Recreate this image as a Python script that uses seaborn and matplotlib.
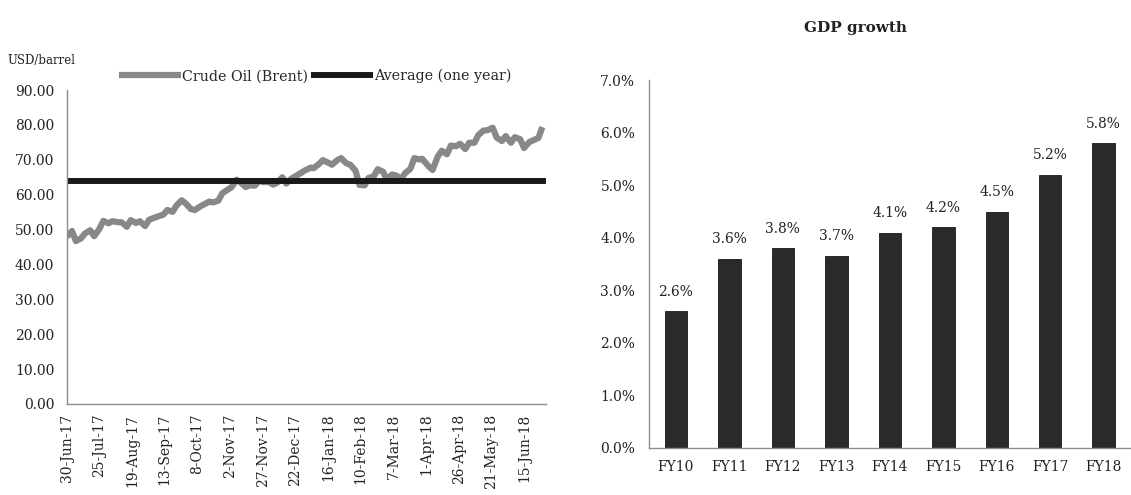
import matplotlib
matplotlib.use("Agg")
import matplotlib.pyplot as plt
import matplotlib.ticker as mticker
import seaborn as sns
import pandas as pd
import numpy as np

# ---------------- data ----------------
brent_dates = [
    "2017-06-30", "2017-07-04", "2017-07-07", "2017-07-11", "2017-07-14", "2017-07-18",
    "2017-07-21", "2017-07-25", "2017-07-28", "2017-08-01", "2017-08-04", "2017-08-08",
    "2017-08-11", "2017-08-15", "2017-08-18", "2017-08-22", "2017-08-25", "2017-08-29",
    "2017-09-01", "2017-09-05", "2017-09-08", "2017-09-12", "2017-09-15", "2017-09-19",
    "2017-09-22", "2017-09-26", "2017-09-29", "2017-10-03", "2017-10-06", "2017-10-10",
    "2017-10-13", "2017-10-17", "2017-10-20", "2017-10-24", "2017-10-27", "2017-10-31",
    "2017-11-03", "2017-11-07", "2017-11-10", "2017-11-14", "2017-11-17", "2017-11-21",
    "2017-11-24", "2017-11-28", "2017-12-01", "2017-12-05", "2017-12-08", "2017-12-12",
    "2017-12-15", "2017-12-19", "2017-12-22", "2017-12-27", "2017-12-29", "2018-01-03",
    "2018-01-05", "2018-01-09", "2018-01-12", "2018-01-16", "2018-01-19", "2018-01-23",
    "2018-01-26", "2018-01-30", "2018-02-02", "2018-02-06", "2018-02-09", "2018-02-13",
    "2018-02-16", "2018-02-20", "2018-02-23", "2018-02-27", "2018-03-02", "2018-03-06",
    "2018-03-09", "2018-03-13", "2018-03-16", "2018-03-20", "2018-03-23", "2018-03-27",
    "2018-03-29", "2018-04-03", "2018-04-06", "2018-04-10", "2018-04-13", "2018-04-17",
    "2018-04-20", "2018-04-24", "2018-04-27", "2018-05-01", "2018-05-04", "2018-05-08",
    "2018-05-11", "2018-05-15", "2018-05-18", "2018-05-22", "2018-05-25", "2018-05-29",
    "2018-06-01", "2018-06-05", "2018-06-08", "2018-06-12", "2018-06-15", "2018-06-19",
    "2018-06-22", "2018-06-26", "2018-06-29",
]
brent_prices = [
    47.9, 49.6, 46.7, 47.5, 48.9, 49.8,
    48.1, 50.2, 52.5, 51.8, 52.4, 52.1,
    52.1, 50.8, 52.7, 51.9, 52.4, 51.0,
    52.8, 53.4, 53.8, 54.3, 55.6, 55.1,
    56.9, 58.4, 57.5, 55.9, 55.6, 56.6,
    57.2, 58.0, 57.8, 58.3, 60.4, 61.4,
    62.1, 64.3, 63.5, 62.2, 62.7, 62.6,
    63.9, 63.6, 63.7, 62.9, 63.4, 65.0,
    63.2, 64.6, 65.3, 66.4, 66.9, 67.8,
    67.6, 68.8, 69.9, 69.2, 68.6, 69.9,
    70.5, 69.0, 68.6, 66.9, 62.8, 62.7,
    64.8, 65.3, 67.3, 66.6, 64.4, 65.8,
    65.5, 64.6, 66.2, 67.4, 70.5, 70.1,
    70.3, 68.1, 67.1, 71.0, 72.6, 71.6,
    74.1, 73.9, 74.6, 73.1, 74.9, 74.9,
    77.1, 78.4, 78.5, 79.2, 76.4, 75.4,
    76.8, 74.9, 76.5, 75.9, 73.4, 75.1,
    75.6, 76.3, 79.4,
]
brent_avg = 64.0

date_ticks = ["30-Jun-17", "25-Jul-17", "19-Aug-17", "13-Sep-17", "8-Oct-17",
              "2-Nov-17", "27-Nov-17", "22-Dec-17", "16-Jan-18", "10-Feb-18",
              "7-Mar-18", "1-Apr-18", "26-Apr-18", "21-May-18", "15-Jun-18"]

fy_labels = ["FY10", "FY11", "FY12", "FY13", "FY14", "FY15", "FY16", "FY17", "FY18"]
gdp_growth = [2.6, 3.6, 3.8, 3.66, 4.1, 4.2, 4.5, 5.2, 5.8]

# ---------------- style ----------------
sns.set_theme(style="white")
plt.rcParams["font.family"] = ["DejaVu Serif"]
plt.rcParams["axes.edgecolor"] = "#8c8c8c"
plt.rcParams["axes.linewidth"] = 1.0
FS = 10

fig = plt.figure(figsize=(11.31, 4.95), dpi=100)

# ---------------- left: Brent ----------------
ax1 = fig.add_axes([0.059, 0.184, 0.424, 0.634])
df = pd.DataFrame({"date": pd.to_datetime(brent_dates), "price": brent_prices})
sns.lineplot(data=df, x="date", y="price", ax=ax1, color="#888888",
             linewidth=4.5, label="Crude Oil (Brent)", solid_capstyle="butt")
ax1.axhline(brent_avg, color="#1a1a1a", linewidth=4.3, label="Average (one year)",
            solid_capstyle="butt")

ax1.set_ylim(0, 90)
ax1.set_xlim(pd.Timestamp("2017-06-30"), pd.Timestamp("2018-07-02"))
ax1.yaxis.set_major_locator(mticker.MultipleLocator(10))
ax1.yaxis.set_major_formatter(mticker.FormatStrFormatter("%.2f"))
tick_dates = pd.to_datetime(date_ticks, format="%d-%b-%y")
ax1.set_xticks(tick_dates)
ax1.set_xticklabels(date_ticks, rotation=90)
ax1.set_xlabel("")
ax1.set_ylabel("")
for s in ["top", "right"]:
    ax1.spines[s].set_visible(False)
ax1.tick_params(axis="both", which="major", direction="out", length=4,
                width=1, color="#8c8c8c", labelsize=FS, labelcolor="#222222")
ax1.tick_params(axis="y", pad=5)
ax1.tick_params(axis="x", pad=3)

leg = ax1.legend(loc="center", bbox_to_anchor=(0.279, 0.846),
                 bbox_transform=fig.transFigure, ncol=2, frameon=False,
                 fontsize=10.3, handlelength=4.3, handletextpad=0.1,
                 columnspacing=0.2, borderaxespad=0)
fig.text(0.007, 0.878, "USD/barrel", fontsize=8.5, color="#222222",
         ha="left", va="center")

# ---------------- right: GDP growth ----------------
ax2 = fig.add_axes([0.574, 0.095, 0.4255, 0.743])
gdf = pd.DataFrame({"fy": fy_labels, "gdp": gdp_growth})
sns.barplot(data=gdf, x="fy", y="gdp", ax=ax2, color="#2a2a2a",
            saturation=1, width=0.42, edgecolor="#1a1a1a", linewidth=0.6)
ax2.set_ylim(0, 7)
ax2.set_xlim(-0.5, len(fy_labels) - 0.5)
ax2.yaxis.set_major_locator(mticker.MultipleLocator(1))
ax2.yaxis.set_major_formatter(mticker.FuncFormatter(lambda v, p: f"{v:.1f}%"))
ax2.set_xlabel("")
ax2.set_ylabel("")
for s in ["top", "right"]:
    ax2.spines[s].set_visible(False)
ax2.tick_params(axis="y", which="major", direction="out", length=4, width=1,
                color="#8c8c8c", labelsize=FS, labelcolor="#222222", pad=6)
ax2.tick_params(axis="x", which="major", length=0, labelsize=FS,
                labelcolor="#222222", pad=9)
ax2.set_xticks(np.arange(-0.5, len(fy_labels), 1.0), minor=True)
ax2.tick_params(axis="x", which="minor", direction="out", length=5, width=1,
                color="#8c8c8c")

for cont in ax2.containers:
    ax2.bar_label(cont, labels=[f"{v:.1f}%" for v in gdp_growth],
                  padding=9, fontsize=FS, color="#222222")

fig.text(0.756, 0.943, "GDP growth", fontsize=11, fontweight="bold",
         color="#222222", ha="center", va="center")

fig.savefig("out.png", dpi=100)
